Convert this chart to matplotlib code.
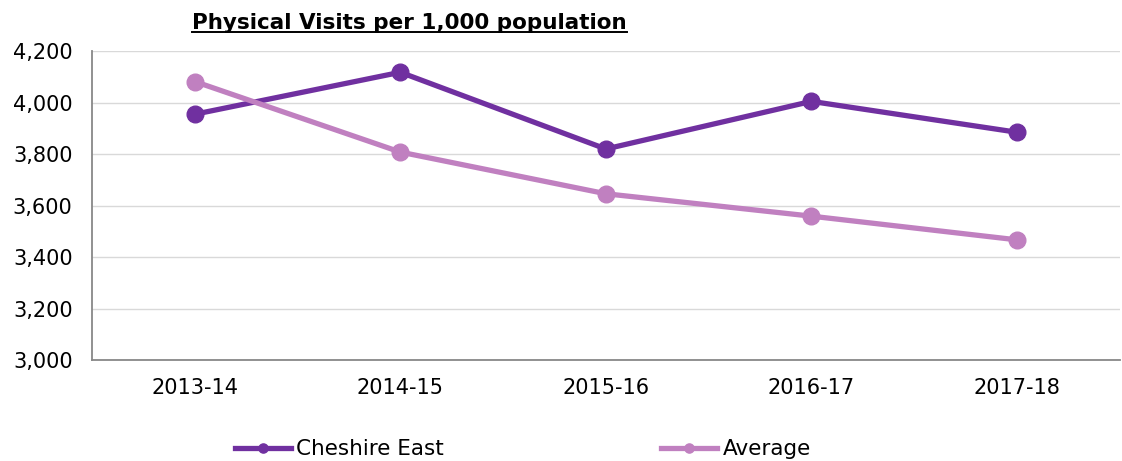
import matplotlib
matplotlib.use('Agg')
import matplotlib.pyplot as plt
from matplotlib.ticker import FuncFormatter
from matplotlib.lines import Line2D

years = ['2013-14', '2014-15', '2015-16', '2016-17', '2017-18']
cheshire_east = [3955, 4118, 3820, 4005, 3885]
average = [4082, 3808, 3646, 3559, 3467]

plt.rcParams['font.family'] = ['DejaVu Sans']

fig = plt.figure(figsize=(11.22, 4.61), dpi=100)
ax = fig.add_axes([0.082, 0.219, 0.916, 0.670])

x = range(len(years))
ax.plot(x, cheshire_east, color='#7030A0', lw=3.8, marker='o', ms=12,
        label='Cheshire East', zorder=3)
ax.plot(x, average, color='#C080C0', lw=3.8, marker='o', ms=12,
        label='Average', zorder=3)

ax.set_xlim(-0.5, len(years) - 0.5)
ax.set_ylim(3000, 4200)
ax.set_yticks(range(3000, 4201, 200))
ax.yaxis.set_major_formatter(FuncFormatter(lambda v, p: f'{int(v):,}'))
ax.set_xticks(list(x))
ax.set_xticklabels(years)
ax.tick_params(axis='both', length=0, labelsize=15)
ax.tick_params(axis='y', pad=14)
ax.tick_params(axis='x', pad=13)
ax.grid(axis='y', color='#D9D9D9', lw=1)
ax.set_axisbelow(True)
for s in ['top', 'right']:
    ax.spines[s].set_visible(False)
for s in ['left', 'bottom']:
    ax.spines[s].set_color('#888888')
    ax.spines[s].set_linewidth(1.3)

# title with underline
t = fig.text(0.365, 0.951, 'Physical Visits per 1,000 population', ha='center',
             va='center', fontsize=15.5, fontweight='bold')
fig.canvas.draw()
bb = t.get_window_extent().transformed(fig.transFigure.inverted())
fig.add_artist(Line2D([bb.x0, bb.x1], [bb.y0 + 0.002, bb.y0 + 0.002],
                      color='black', lw=1.4, transform=fig.transFigure))

fig.legend(loc='center', bbox_to_anchor=(0.466, 0.025), ncol=2, frameon=False,
           fontsize=15.5, handlelength=2.6, handletextpad=0.25,
           columnspacing=10.1, markerscale=0.55)

plt.savefig('out.png', dpi=100)
